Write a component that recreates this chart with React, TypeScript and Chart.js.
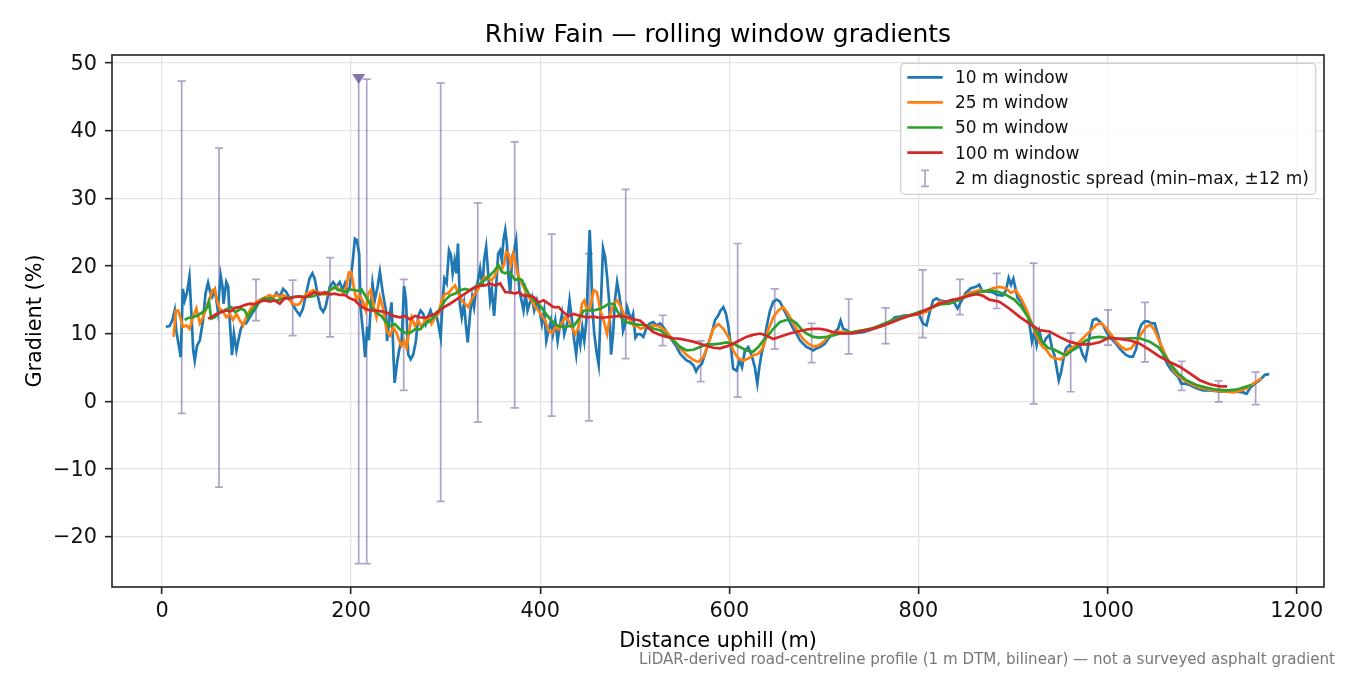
import { useEffect, useRef } from "react";
import { Chart, registerables } from "chart.js";

Chart.register(...registerables);

type Pt = [number, number];

// rolling-window gradients, [distance m, gradient %]
const win10: Pt[] = [
  [4, 11.0], [8, 11.1], [11, 12.0], [13.4, 13.4], [15, 10.5], [18, 8.0], [19.8, 6.5], [22, 16.6], [24, 14.9], [26.5, 16.1],
  [29, 18.4], [30.7, 13.9], [33, 7.5], [34.6, 6.0], [37, 8.2], [40, 9.0], [43.4, 12.0], [46, 15.9], [48.7, 17.5], [51, 16.1],
  [53, 15.4], [56, 16.4], [59, 13.4], [62, 18.6], [64, 16.9], [65, 14.4], [68, 17.6], [70, 16.9], [71.6, 12.0], [74, 6.8],
  [76, 10.0], [78.7, 7.5], [80.8, 9.0], [83, 10.5], [85.7, 11.5], [89, 11.5], [92.8, 12.4], [96.3, 13.2], [99.8, 13.9], [103, 14.9],
  [107, 15.2], [110, 14.9], [114, 15.4], [117.5, 15.2], [121, 16.0], [124.5, 15.4], [128, 16.6], [131.6, 16.1], [135, 15.2], [138.6, 14.2],
  [142, 13.4], [145.7, 12.7], [149, 13.7], [152.7, 16.1], [156, 18.1], [159, 18.9], [161.5, 18.1], [165, 15.4], [167.5, 13.8], [170.4, 13.2],
  [173, 13.9], [177.4, 16.9], [181, 17.6], [184.5, 16.9], [188, 17.6], [191, 16.4], [193.5, 17.4], [196, 16.1], [198.6, 16.9], [201.4, 20.3],
  [204, 24.0], [206, 23.8], [208.5, 21.8], [210, 13.9], [211.6, 11.5], [213.4, 9.0], [214.8, 6.5], [217, 11.0], [218.7, 9.0], [220.5, 13.4],
  [222.6, 17.4], [225, 14.9], [228, 16.9], [230.4, 19.1], [233.5, 16.0], [236.8, 13.4], [238, 8.9], [241, 12.9], [242.7, 14.6], [245, 5.9],
  [246, 2.7], [248.8, 5.9], [251, 7.7], [253.4, 8.9], [256, 17.0], [258, 14.9], [260.4, 6.9], [263, 6.2], [265.7, 6.9], [268.5, 8.9],
  [271, 12.6], [273.5, 13.4], [276.3, 12.9], [279, 11.4], [281.6, 12.6], [284, 13.4], [287, 12.1], [289.8, 12.9], [292.2, 11.4], [294.7, 9.4],
  [296.8, 14.9], [298.6, 18.1], [301, 17.4], [303.5, 22.3], [305.6, 21.6], [307.4, 18.9], [309.5, 20.8], [311.3, 18.9], [313, 23.3], [315, 14.4],
  [317, 12.4], [319.4, 14.4], [321.6, 10.9], [323.3, 8.7], [325.8, 12.9], [328, 15.4], [330, 13.9], [332, 16.4], [334.3, 17.9], [336.4, 19.6],
  [339, 16.9], [340.6, 20.8], [342.8, 22.8], [345.2, 18.4], [347, 14.9], [348.8, 16.4], [351.2, 12.6], [353.4, 16.9], [355.5, 21.8], [357.6, 22.3],
  [359.4, 20.8], [361.1, 23.8], [363, 25.3], [364.7, 23.3], [366.4, 18.4], [368.2, 15.9], [370.3, 21.3], [372.4, 22.3], [374.5, 23.8], [375.9, 19.9],
  [378, 16.4], [380.2, 14.9], [382.3, 13.4], [384.5, 15.9], [386.6, 13.4], [388.7, 14.4], [391.2, 15.4], [393.6, 13.4], [396.5, 14.9], [399.3, 13.4],
  [401.8, 11.4], [404.2, 13.4], [406.4, 8.9], [408.8, 10.4], [411.3, 11.9], [413.4, 9.9], [415.9, 11.9], [418.4, 8.9], [420.5, 10.9], [423, 12.9],
  [425.4, 9.9], [428.3, 11.4], [431, 14.9], [433.6, 11.9], [436, 8.9], [438, 6.9], [440.3, 10.4], [442.4, 8.4], [444.5, 10.9], [446.6, 8.9],
  [448.8, 11.9], [450.9, 19.9], [452.3, 25.3], [453.7, 20.8], [455, 13.9], [457.2, 9.9], [459.4, 7.4], [461.8, 5.4], [464.3, 14.9], [466.4, 22.6],
  [468.6, 21.3], [470.7, 18.4], [472.8, 14.9], [474.9, 6.9], [477, 9.9], [479, 14.9], [481.3, 17.6], [483.4, 15.9], [485.5, 13.9], [487.6, 10.4],
  [489.8, 11.4], [491.9, 13.9], [494, 12.9], [496, 11.9], [498.2, 12.9], [500.7, 9.4], [503, 9.9], [506, 9.9], [509, 9.5], [512.7, 11.0],
  [516, 11.5], [519.7, 11.7], [523, 11.2], [526.8, 11.5], [530, 11.0], [533.8, 10.2], [537, 9.5], [540.8, 8.7], [544.4, 8.0], [548, 7.0],
  [551.4, 6.5], [555, 6.0], [558.5, 5.8], [562, 5.3], [564.8, 4.4], [567, 5.0], [570.8, 5.5], [574.3, 7.0], [577.8, 8.5], [581.3, 10.0],
  [584.9, 12.0], [588.4, 12.7], [590.8, 13.4], [593.7, 13.9], [596.5, 12.9], [599, 11.0], [601.4, 8.5], [604, 4.8], [607.7, 4.5], [610.6, 6.0],
  [613.4, 5.0], [616.5, 7.5], [620, 8.0], [623.6, 6.8], [627, 5.0], [629.6, 2.6], [631.7, 5.0], [634, 7.0], [636.6, 8.5], [639.4, 11.0],
  [643, 13.4], [646.5, 14.7], [650, 15.0], [653.5, 14.7], [657, 13.7], [660.6, 12.7], [664, 11.7], [667.6, 10.7], [671, 10.0], [674.6, 9.0],
  [678, 8.5], [681.7, 8.0], [685, 7.8], [688.7, 7.5], [692, 7.8], [695.8, 8.0], [701, 8.5], [706, 9.5], [711.6, 10.2], [715, 10.7],
  [717.6, 11.9], [720.4, 10.7], [724, 10.5], [729, 10.0], [734.5, 10.1], [741.5, 10.2], [748.6, 10.5], [755.6, 10.9], [762.7, 11.2], [769.7, 11.7],
  [775, 12.4], [780, 12.5], [785.6, 12.7], [790.8, 12.7], [796, 12.9], [801, 12.7], [804.6, 11.5], [808.5, 11.2], [812, 13.2], [815.5, 14.9],
  [819, 15.2], [822.5, 14.9], [829.6, 14.7], [836, 15.0], [841.3, 13.7], [845, 14.7], [850, 16.0], [855.5, 16.7], [860.8, 16.9], [864.3, 17.2],
  [867.8, 16.2], [873, 16.2], [878.4, 16.1], [883.7, 15.7], [889, 15.6], [892.6, 16.4], [895.4, 18.2], [897.9, 17.2], [900.4, 18.1], [902.5, 16.7],
  [905, 15.2], [908.5, 14.7], [912, 13.7], [915.5, 13.0], [918, 10.8], [920, 8.8], [922.6, 10.3], [925, 8.3], [927.9, 10.3], [931.4, 8.3],
  [935, 9.3], [938.5, 9.8], [941.3, 7.8], [943.8, 6.8], [946.3, 4.8], [948.4, 3.1], [950.9, 4.3], [953.4, 6.3], [956, 7.8], [959.7, 8.3],
  [963.3, 7.6], [966.8, 7.8], [970.3, 8.3], [973.9, 6.8], [976.7, 6.1], [979, 7.8], [981.6, 10.3], [984.5, 12.0], [988, 12.2], [991.5, 11.8],
  [995, 11.3], [998.6, 10.3], [1002, 9.5], [1005.7, 9.0], [1009, 8.5], [1012.7, 7.8], [1016, 7.3], [1019.8, 6.8], [1023.3, 6.6], [1026.9, 6.6],
  [1030.4, 7.8], [1033, 10.3], [1035.7, 11.3], [1039.2, 11.8], [1042.8, 11.8], [1046.3, 11.5], [1049.8, 11.5], [1053.4, 9.8], [1057, 7.8], [1060.4, 6.3],
  [1064, 5.3], [1067.5, 4.6], [1071, 4.1], [1074.6, 3.6], [1078, 2.6], [1081.6, 2.6], [1087, 2.4], [1094, 1.9], [1101, 1.6], [1108, 1.6],
  [1115, 1.5], [1122, 1.4], [1129, 1.4], [1136, 1.4], [1143.5, 1.3], [1147, 1.1], [1150.5, 1.9], [1155.8, 2.6], [1161, 3.1], [1166.4, 3.9],
  [1171, 4.0],
];

const win25: Pt[] = [
  [12.3, 9.5], [14.5, 13.4], [17, 13.4], [19.4, 12.4], [22, 11.0], [25.7, 11.2], [29, 10.7], [32.8, 12.4], [36.3, 13.7], [40, 11.5],
  [43.4, 12.4], [47, 13.9], [50.4, 15.2], [53.3, 16.4], [55.7, 16.6], [58, 14.9], [61, 13.7], [64.6, 13.2], [68, 12.4], [71.6, 12.9],
  [75, 12.0], [78.7, 12.9], [82, 12.0], [85.7, 11.2], [89, 12.4], [92.8, 13.4], [96.3, 14.2], [100, 14.7], [103, 14.9], [107, 15.2],
  [110, 15.4], [114, 15.7], [117.5, 15.4], [121, 15.7], [124.5, 15.4], [128, 15.7], [131.6, 15.4], [135, 14.9], [138.6, 14.4], [142, 14.2],
  [145.7, 14.4], [149, 15.2], [152.7, 15.9], [156, 16.1], [160, 16.4], [163, 16.1], [167, 16.1], [170.4, 15.9], [174, 15.7], [177.4, 16.4],
  [181, 16.6], [184.5, 16.9], [188, 16.4], [191.5, 16.1], [195, 16.9], [197.5, 19.0], [200, 19.1], [202.8, 16.9], [205.6, 14.9], [208.5, 15.7],
  [212, 14.9], [215.5, 13.4], [218, 15.9], [220.8, 16.4], [224, 13.9], [226.8, 12.4], [230.4, 15.4], [234, 13.6], [237.5, 10.4], [241, 9.7],
  [244.5, 10.9], [248, 10.1], [251, 8.9], [253.4, 8.2], [256, 8.9], [258.6, 7.9], [261.5, 10.4], [264, 12.4], [267.5, 11.1], [271, 11.9],
  [274.6, 10.9], [278, 11.9], [281.6, 12.4], [285, 11.4], [288.7, 12.4], [292.2, 12.9], [295.8, 14.9], [299.3, 15.9], [302.8, 15.9], [306.4, 16.6],
  [310, 17.1], [313.4, 15.9], [317, 14.9], [320.5, 14.4], [324, 13.9], [327.6, 15.1], [331, 15.9], [334.6, 16.6], [338, 17.6], [341.7, 18.4],
  [345.2, 18.1], [348.8, 17.9], [352.3, 18.6], [355.8, 19.9], [359.4, 19.4], [361.8, 20.3], [364, 22.1], [366.4, 21.8], [368.9, 20.1], [371.7, 21.8],
  [374.6, 19.9], [377, 18.4], [380.6, 17.4], [384, 16.4], [387.6, 15.4], [391, 14.9], [394.7, 13.9], [398.2, 13.4], [401.8, 12.6], [405.3, 11.9],
  [408.8, 10.4], [412.4, 10.1], [416, 10.9], [419.4, 10.6], [423, 11.6], [426.5, 12.4], [430, 11.9], [433.6, 10.9], [437, 9.9], [440.6, 10.9],
  [444.2, 14.4], [446.6, 14.9], [449.5, 13.4], [453, 13.9], [456.5, 16.4], [460, 16.1], [463.6, 13.4], [467.1, 11.9], [470.7, 9.9], [474.2, 12.9],
  [477.7, 14.4], [481.3, 14.9], [484.8, 14.1], [488.3, 12.9], [491.9, 12.4], [495.4, 11.9], [499, 11.1], [502.5, 11.1], [506, 10.7], [512.7, 11.0],
  [519.7, 11.2], [526.8, 11.0], [533.8, 10.2], [540.8, 9.0], [548, 7.8], [555, 6.8], [562, 6.1], [567, 5.8], [572.5, 6.5], [577.8, 8.5],
  [583, 10.7], [588.4, 11.4], [593.7, 10.7], [599, 9.5], [604, 7.5], [609.5, 6.3], [614.8, 6.0], [620, 6.3], [625.4, 6.8], [630.6, 7.0],
  [636, 8.0], [641, 10.5], [646.5, 12.4], [651.8, 13.4], [657, 13.9], [662.3, 12.9], [667.6, 11.5], [673, 10.2], [678, 9.2], [683.5, 8.5],
  [688.7, 8.1], [694, 8.2], [699, 8.7], [704.6, 9.5], [710, 10.1], [717, 10.3], [724, 10.2], [731, 10.2], [738, 10.4], [745, 10.5],
  [752, 10.7], [759, 11.0], [766, 11.4], [773, 12.0], [780, 12.3], [787, 12.7], [794, 12.7], [801, 12.9], [808.5, 13.2], [815.5, 13.9],
  [822.5, 14.7], [832.5, 14.5], [843, 15.0], [853.7, 16.0], [864.3, 16.4], [871.4, 16.2], [878.4, 16.7], [885.5, 16.9], [892.6, 16.7], [897.9, 16.0],
  [903, 16.4], [908.5, 15.2], [913.8, 13.7], [919, 11.8], [924.4, 9.8], [929.7, 8.3], [935, 7.6], [940.3, 6.6], [945.6, 6.3], [951, 6.2],
  [956.2, 7.1], [961.5, 7.8], [966.8, 8.3], [972, 9.0], [977.4, 9.8], [982.7, 10.5], [988, 11.3], [993.3, 11.5], [998.6, 10.8], [1004, 9.8],
  [1009, 8.8], [1014.5, 8.0], [1019.8, 7.6], [1025, 7.8], [1030.4, 8.8], [1035.7, 10.0], [1041, 11.0], [1045.2, 11.3], [1049.8, 10.5], [1055, 8.8],
  [1060.4, 7.1], [1065.7, 5.6], [1071, 4.3], [1076.3, 3.6], [1083.4, 2.9], [1090.5, 2.4], [1097.5, 2.0], [1104.6, 1.8], [1111.7, 1.6], [1118.8, 1.5],
  [1125.8, 1.4], [1132.9, 1.3], [1140, 1.5], [1147, 1.9], [1154, 2.6], [1163, 3.4],
];

const win50: Pt[] = [
  [24, 12.0], [27.5, 12.3], [32.8, 12.4], [38, 12.7], [43.4, 13.2], [47, 13.7], [49.7, 14.7], [52, 12.2], [55.7, 12.4], [59, 12.9],
  [62.8, 13.2], [66, 13.4], [70, 13.7], [73.4, 13.9], [77, 13.2], [80.4, 13.4], [84, 13.7], [87.5, 13.4], [91, 12.4], [94.5, 13.2],
  [98, 13.9], [101.6, 14.4], [105, 14.9], [108.6, 15.2], [112, 14.9], [115.7, 15.2], [119, 14.9], [122.7, 14.9], [128, 15.2], [133, 15.3],
  [138.6, 15.4], [144, 15.5], [149, 15.4], [154.5, 15.4], [160, 15.5], [165, 15.8], [170.4, 15.8], [175.7, 16.1], [179, 16.6], [182.7, 16.9],
  [186, 16.4], [190, 16.4], [193.3, 16.1], [197, 16.4], [200, 16.5], [204, 16.4], [207.4, 16.3], [211, 16.5], [214.5, 15.7], [218, 14.9],
  [221.5, 13.9], [225, 13.4], [228.6, 12.9], [232, 12.6], [235.7, 11.9], [241, 11.1], [246.3, 11.4], [251.6, 10.6], [257, 10.1], [262.2, 10.1],
  [267.5, 10.6], [272.8, 10.6], [278, 11.4], [283.4, 11.9], [288.7, 12.6], [294, 13.6], [299.3, 14.9], [304.6, 15.6], [310, 15.9], [315.2, 16.4],
  [320.5, 16.6], [325.8, 16.4], [331, 16.9], [336.4, 17.4], [341.7, 17.9], [347, 18.6], [352.3, 19.4], [355.8, 20.1], [359.4, 19.1], [363, 18.9],
  [366.4, 19.1], [370, 18.6], [373.5, 17.9], [377, 18.1], [380.6, 17.9], [384, 16.9], [387.6, 15.9], [393, 14.9], [398.2, 14.4], [403.5, 13.4],
  [408.8, 12.4], [414, 11.6], [419.4, 11.1], [424.7, 10.9], [430, 11.1], [435.3, 11.1], [440.6, 12.1], [446, 13.4], [451.2, 13.4], [456.5, 13.4],
  [461.8, 13.6], [467.1, 13.9], [472.4, 14.4], [477.7, 14.4], [483, 12.9], [488.3, 11.9], [493.6, 11.6], [499, 11.4], [505.6, 11.3], [512.7, 11.2],
  [519.7, 10.7], [526.8, 10.5], [533.8, 9.7], [540.8, 9.0], [548, 8.0], [555, 7.5], [562, 7.6], [569, 8.0], [576, 8.4], [583, 8.4],
  [590, 8.5], [597, 8.7], [604, 8.5], [611, 8.0], [618, 7.5], [625, 7.3], [630.6, 8.0], [636, 9.0], [641, 9.7], [646.5, 10.7],
  [653.5, 11.7], [660.6, 12.0], [665.8, 12.0], [671, 11.5], [676.4, 10.6], [681.7, 10.0], [688.7, 9.5], [695.8, 9.4], [702.8, 9.5], [710, 9.7],
  [717, 10.0], [724, 10.1], [731, 10.2], [738, 10.4], [745, 10.6], [752, 10.8], [759, 11.2], [766, 11.6], [773, 12.0], [780, 12.3],
  [787, 12.6], [794, 12.8], [801, 13.2], [808.5, 13.5], [815.5, 13.9], [822.5, 14.3], [832.5, 14.4], [843, 15.0], [853.7, 15.7], [864.3, 16.1],
  [875, 16.4], [883.7, 16.2], [892.6, 15.7], [901.4, 15.0], [908.5, 14.0], [915.5, 12.5], [922.6, 10.8], [929.7, 9.0], [936.7, 7.9], [943.8, 7.6],
  [951, 7.1], [956.2, 6.8], [963.3, 7.6], [970.3, 8.3], [977.4, 9.0], [984.5, 9.4], [991.5, 9.5], [1002, 9.3], [1012.7, 9.2], [1023.3, 9.3],
  [1034, 9.3], [1044.5, 8.8], [1053.4, 8.0], [1060.4, 6.8], [1067.5, 5.3], [1074.6, 4.1], [1083.4, 3.1], [1094, 2.4], [1104.6, 2.0], [1115, 1.7],
  [1125.8, 1.6], [1136.4, 1.7], [1145.2, 2.1], [1152.3, 2.4],
];

const win100: Pt[] = [
  [48.7, 12.2], [52, 12.4], [57.5, 12.9], [62.8, 13.2], [68, 13.4], [73.4, 13.3], [77, 13.8], [82, 13.9], [87.5, 14.2], [92.8, 14.4],
  [98, 14.3], [103.4, 14.7], [108.6, 14.9], [114, 14.7], [119, 14.9], [124.5, 14.4], [129.8, 15.2], [135, 15.2], [140.4, 15.4], [145.7, 15.5],
  [151, 15.3], [156, 15.7], [161.5, 16.1], [167, 15.8], [172, 16.1], [177.4, 15.8], [182.7, 15.9], [188, 15.7], [193.3, 15.7], [198.6, 15.2],
  [204, 14.9], [209, 14.2], [214.5, 13.7], [220, 13.4], [225, 13.4], [230.4, 13.3], [237.5, 13.1], [244.5, 12.6], [251.6, 12.4], [257, 12.6],
  [262, 12.1], [267.5, 12.6], [272.8, 12.4], [278, 12.3], [283.4, 12.6], [288.7, 12.9], [294, 13.4], [299.3, 14.0], [304.6, 14.4], [310, 14.9],
  [315.2, 15.4], [320.5, 15.9], [325.8, 16.4], [331, 16.8], [336.4, 17.1], [341.7, 17.1], [347, 17.4], [352.3, 17.1], [357.6, 17.4], [363, 16.1],
  [368.2, 16.1], [373.5, 15.9], [377, 16.1], [382.3, 15.6], [387.6, 15.6], [393, 15.4], [398.2, 14.6], [403.5, 14.9], [408.8, 14.4], [414, 13.9],
  [419.4, 13.9], [424.7, 13.1], [430, 12.6], [435.3, 12.9], [442.4, 12.6], [449.5, 12.4], [456.5, 12.5], [463.6, 12.3], [470.7, 12.4], [477.7, 12.5],
  [484.8, 12.6], [491.9, 12.4], [499, 12.1], [506, 11.9], [512.7, 11.0], [519.7, 10.2], [526.8, 9.8], [533.8, 9.5], [541, 9.3], [548, 9.2],
  [555, 9.0], [562, 8.8], [569, 8.5], [576, 8.2], [583, 7.9], [590, 7.8], [597, 8.1], [604, 8.5], [611, 9.0], [618, 9.5],
  [625, 9.8], [632.4, 10.0], [639, 9.7], [646.5, 9.2], [655, 9.6], [664, 10.0], [672, 10.3], [681.7, 10.6], [688, 10.7], [695.8, 10.7],
  [703, 10.5], [710, 10.2], [718, 10.0], [727.5, 10.0], [736, 10.2], [745, 10.5], [754, 10.8], [762.7, 11.2], [771, 11.6], [780, 12.1],
  [790, 12.6], [800.7, 13.0], [811, 13.7], [822, 14.4], [832, 14.8], [843, 15.2], [852, 15.5], [857, 15.7], [862, 15.8], [867.8, 15.6],
  [875, 15.0], [885.5, 14.7], [896, 13.7], [906.7, 12.5], [917, 11.5], [928, 10.5], [938.5, 10.3], [949, 9.5], [959.7, 8.8], [970.3, 8.4],
  [981, 8.4], [991.5, 8.7], [1002, 9.4], [1012.7, 9.2], [1023.3, 9.0], [1034, 8.5], [1044.5, 7.6], [1055, 6.6], [1065.7, 5.8], [1076.3, 5.1],
  [1087, 4.1], [1097.5, 3.1], [1108, 2.5], [1118.7, 2.2], [1126.5, 2.2],
];

// 2 m diagnostic spread (min-max within ±12 m)
const spreadX = [20.8, 60.3, 99.4, 138.2, 177.7, 208, 216.5, 255.6, 294.7, 333.9, 373, 412.1, 451.6, 490.4, 529.5, 569.7,
  608.8, 648, 687, 726.2, 765.3, 804.5, 843.9, 882.7, 921.8, 961, 1000.4, 1039.5, 1078.4, 1117.5, 1156.6];
const spreadMin = [-1.8, -12.7, 11.9, 9.7, 9.5, -24.0, -24.0, 1.6, -14.8, -3.1, -1.0, -2.2, -2.9, 6.3, 8.2, 2.9,
  0.6, 7.7, 5.7, 7.0, 8.5, 9.4, 12.8, 13.7, -0.4, 1.4, 8.3, 5.8, 1.6, -0.1, -0.5];
const spreadMax = [47.3, 37.4, 18.0, 17.9, 21.2, 47.6, 47.6, 18.0, 47.0, 29.3, 38.3, 24.7, 21.8, 31.3, 12.7, 8.9,
  23.3, 16.6, 11.5, 15.1, 13.8, 19.4, 18.0, 18.9, 20.4, 10.1, 13.5, 14.6, 5.9, 3.0, 4.3];
const flagIndex = 5; // spread drawn with a down-triangle instead of a top cap

const xTicks = [0, 200, 400, 600, 800, 1000, 1200];
const yTicks = [-20, -10, 0, 10, 20, 30, 40, 50];

const seriesLabels = ["10 m window", "25 m window", "50 m window", "100 m window"];
const seriesColors = ["#1f77b4", "#ff7f0e", "#2ca02c", "#d62728"];
const spreadLabel = "2 m diagnostic spread (min\u2013max, \u00b112 m)";

const FONT = '"DejaVu Sans", sans-serif';
const SPREAD_COLOR = "rgba(106, 90, 154, 0.55)";
const FLAG_COLOR = "rgba(106, 90, 154, 0.82)";

const fmt = (v: number) => (v < 0 ? "\u2212" + Math.abs(v) : String(v));

const overlay = {
  id: "overlay",
  beforeDatasetsDraw(chart: any) {
    const { ctx, chartArea: a, scales } = chart;
    ctx.save();
    ctx.beginPath();
    ctx.rect(a.left, a.top, a.width, a.height);
    ctx.clip();
    ctx.strokeStyle = SPREAD_COLOR;
    ctx.lineWidth = 1.7;
    spreadX.forEach((x, i) => {
      const px = scales.x.getPixelForValue(x);
      const top = scales.y.getPixelForValue(spreadMax[i]);
      const bot = scales.y.getPixelForValue(spreadMin[i]);
      ctx.beginPath();
      ctx.moveTo(px, top);
      ctx.lineTo(px, bot);
      ctx.moveTo(px - 4, bot);
      ctx.lineTo(px + 4, bot);
      if (i !== flagIndex) {
        ctx.moveTo(px - 4, top);
        ctx.lineTo(px + 4, top);
      }
      ctx.stroke();
    });
    ctx.restore();
  },
  afterDatasetsDraw(chart: any) {
    const { ctx, scales } = chart;
    const px = scales.x.getPixelForValue(spreadX[flagIndex]);
    const py = scales.y.getPixelForValue(spreadMax[flagIndex]);
    ctx.save();
    ctx.fillStyle = FLAG_COLOR;
    ctx.beginPath();
    ctx.moveTo(px - 6.5, py - 5);
    ctx.lineTo(px + 6.5, py - 5);
    ctx.lineTo(px, py + 5);
    ctx.closePath();
    ctx.fill();
    ctx.restore();
  },
  afterDraw(chart: any) {
    const { ctx, chartArea: a } = chart;
    ctx.save();
    // frame
    ctx.strokeStyle = "#222";
    ctx.lineWidth = 1.6;
    ctx.strokeRect(a.left, a.top, a.width, a.height);

    const cx = (a.left + a.right) / 2;
    ctx.fillStyle = "#000";
    ctx.textBaseline = "alphabetic";
    ctx.textAlign = "center";
    ctx.font = `25px ${FONT}`;
    ctx.fillText("Rhiw Fain \u2014 rolling window gradients", cx, 41.7);
    ctx.font = `20.8px ${FONT}`;
    ctx.fillText("Distance uphill (m)", cx, 646.7);
    ctx.save();
    ctx.translate(40.7, (a.top + a.bottom) / 2);
    ctx.rotate(-Math.PI / 2);
    ctx.fillText("Gradient (%)", 0, 0);
    ctx.restore();

    ctx.textAlign = "right";
    ctx.fillStyle = "#777";
    ctx.font = `15.1px ${FONT}`;
    ctx.fillText(
      "LiDAR-derived road-centreline profile (1 m DTM, bilinear) \u2014 not a surveyed asphalt gradient",
      1335,
      664.3
    );

    // legend
    const lx = 900.7, ly = 63.3, lw = 415, lh = 131;
    ctx.beginPath();
    ctx.roundRect(lx, ly, lw, lh, 4);
    ctx.fillStyle = "rgba(255,255,255,0.8)";
    ctx.fill();
    ctx.strokeStyle = "#d0d0d0";
    ctx.lineWidth = 1.3;
    ctx.stroke();

    const rows = [77.3, 102.4, 127.5, 152.7, 178.3];
    ctx.font = `17px ${FONT}`;
    ctx.textAlign = "left";
    seriesLabels.forEach((label, i) => {
      ctx.strokeStyle = seriesColors[i];
      ctx.lineWidth = 2.7;
      ctx.beginPath();
      ctx.moveTo(907.3, rows[i]);
      ctx.lineTo(942.7, rows[i]);
      ctx.stroke();
      ctx.fillStyle = "#111";
      ctx.fillText(label, 955, rows[i] + 5.9);
    });
    const r = rows[4];
    ctx.strokeStyle = SPREAD_COLOR;
    ctx.lineWidth = 1.7;
    ctx.beginPath();
    ctx.moveTo(925, r - 8);
    ctx.lineTo(925, r + 8);
    ctx.moveTo(921, r - 8);
    ctx.lineTo(929, r - 8);
    ctx.moveTo(921, r + 8);
    ctx.lineTo(929, r + 8);
    ctx.stroke();
    ctx.fillStyle = "#111";
    ctx.fillText(spreadLabel, 955, r + 5.9);
    ctx.restore();
  },
};

export default function App() {
  const canvasRef = useRef<HTMLCanvasElement>(null);
  const chartRef = useRef<Chart | null>(null);

  useEffect(() => {
    if (!canvasRef.current) return;
    if (chartRef.current) chartRef.current.destroy();

    const series = [win10, win25, win50, win100];
    // dataset 0 is drawn on top in Chart.js, so reverse: 100 m on top
    const datasets = series
      .map((pts, i) => ({
        label: seriesLabels[i],
        data: pts.map(([x, y]) => ({ x, y })),
        borderColor: seriesColors[i],
        backgroundColor: seriesColors[i],
        borderWidth: 2.7,
        pointRadius: 0,
        tension: 0,
        fill: false,
      }))
      .reverse();

    const axisCommon = {
      type: "linear" as const,
      border: { display: false },
      grid: {
        color: "#e3e3e3",
        lineWidth: 1.3,
        tickColor: "#222",
        tickWidth: 1.6,
        tickLength: 7,
      },
    };

    chartRef.current = new Chart(canvasRef.current, {
      type: "line",
      data: { datasets },
      plugins: [overlay],
      options: {
        animation: false,
        responsive: true,
        maintainAspectRatio: false,
        layout: { padding: { top: 55, right: 26, left: 0, bottom: 0 } },
        scales: {
          x: {
            ...axisCommon,
            min: -52.9,
            max: 1228.9,
            afterBuildTicks: (s: any) => {
              s.ticks = xTicks.map((v) => ({ value: v }));
            },
            afterFit: (s: any) => {
              s.height = 88;
            },
            ticks: {
              font: { family: FONT, size: 20.8 },
              color: "#111",
              padding: 5,
              maxRotation: 0,
              autoSkip: false,
              callback: (v: any) => fmt(Number(v)),
            },
          },
          y: {
            ...axisCommon,
            min: -27.45,
            max: 51.15,
            afterBuildTicks: (s: any) => {
              s.ticks = yTicks.map((v) => ({ value: v }));
            },
            afterFit: (s: any) => {
              s.width = 112;
            },
            ticks: {
              font: { family: FONT, size: 20.8 },
              color: "#111",
              padding: 8,
              labelOffset: 1.5,
              autoSkip: false,
              callback: (v: any) => fmt(Number(v)),
            },
          },
        },
        plugins: {
          legend: { display: false },
          tooltip: { enabled: false },
          title: { display: false },
        },
      },
    });

    return () => {
      if (chartRef.current) {
        chartRef.current.destroy();
        chartRef.current = null;
      }
    };
  }, []);

  return (
    <div style={{ position: "fixed", left: 0, top: 0, width: 1350, height: 675, background: "#fff" }}>
      <canvas ref={canvasRef}></canvas>
    </div>
  );
}
